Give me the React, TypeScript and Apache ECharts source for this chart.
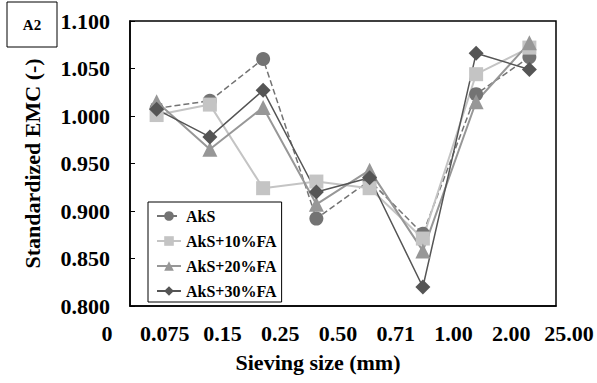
import React, { useEffect, useRef } from "react";
import * as echarts from "echarts";

const categories = ["0-0.075", "0.075-0.15", "0.15-0.25", "0.25-0.50", "0.50-0.71", "0.71-1.00", "1.00-2.00", "2.00-25.00"];
const tickLabels = ["0", "0.075", "0.15", "0.25", "0.50", "0.71", "1.00", "2.00", "25.00"];
const aks = [1.008, 1.016, 1.060, 0.892, 0.932, 0.876, 1.023, 1.062];
const aks10 = [1.001, 1.012, 0.924, 0.931, 0.924, 0.871, 1.044, 1.072];
const aks20 = [1.015, 0.965, 1.009, 0.907, 0.943, 0.858, 1.015, 1.077];
const aks30 = [1.007, 0.978, 1.027, 0.920, 0.935, 0.820, 1.066, 1.049];

const FONT = "'Liberation Serif', 'Times New Roman', serif";

export default function App() {
  const ref = useRef<HTMLDivElement>(null);
  useEffect(() => {
    if (!ref.current) return;
    const chart = echarts.init(ref.current, null, { renderer: "svg" });
    const mk = (name: string, data: number[], color: string, symbol: string, size: number, width: number, type: string) => ({
      name,
      type: "line",
      data,
      symbol,
      symbolSize: size,
      xAxisIndex: 0,
      yAxisIndex: 0,
      itemStyle: { color },
      lineStyle: { color, width, type },
    });
    chart.setOption({
      animation: false,
      backgroundColor: "#fff",
      textStyle: { fontFamily: FONT },
      grid: [
        { left: 130, right: 41, top: 21, bottom: 77, show: true, borderColor: "#000", borderWidth: 1.5, backgroundColor: "transparent" },
        { left: 107, right: 28, top: 21, bottom: 77, show: false },
      ],
      xAxis: [
        {
          type: "category",
          gridIndex: 0,
          data: categories,
          boundaryGap: true,
          axisLine: { lineStyle: { color: "#000", width: 1.5 } },
          axisTick: { inside: true, length: 5, lineStyle: { color: "#000" } },
          axisLabel: { show: false },
        },
        {
          type: "category",
          gridIndex: 1,
          data: tickLabels,
          boundaryGap: false,
          axisLine: { show: false },
          axisTick: { show: false },
          axisLabel: { show: true, interval: 0, margin: 16, color: "#000", fontSize: 22, fontWeight: "bold", fontFamily: FONT },
          name: "Sieving size (mm)",
          nameLocation: "middle",
          nameGap: 45,
          nameTextStyle: { color: "#000", fontSize: 22, fontWeight: "bold", fontFamily: FONT, padding: [0, 40, 0, 0] },
        },
      ],
      yAxis: [
        {
          type: "value",
          gridIndex: 0,
          min: 0.8,
          max: 1.1,
          interval: 0.05,
          axisLine: { show: true, lineStyle: { color: "#000", width: 1.5 } },
          axisTick: { show: true, inside: true, length: 5, lineStyle: { color: "#000" } },
          splitLine: { show: false },
          axisLabel: { margin: 20, color: "#000", fontSize: 22, fontWeight: "bold", fontFamily: FONT, formatter: (v: number) => v.toFixed(3) },
          name: "Standardized EMC (-)",
          nameLocation: "middle",
          nameGap: 87,
          nameTextStyle: { color: "#000", fontSize: 22, fontWeight: "bold", fontFamily: FONT },
        },
        { type: "value", gridIndex: 1, show: false },
      ],
      legend: {
        orient: "vertical",
        left: 148,
        top: 202,
        borderColor: "#000",
        borderWidth: 1,
        padding: [6, 5, 3, 8],
        itemGap: 9,
        itemWidth: 24,
        itemHeight: 12,
        textStyle: { color: "#000", fontSize: 16, fontWeight: "bold", fontFamily: FONT, lineHeight: 16 },
        data: ["AkS", "AkS+10%FA", "AkS+20%FA", "AkS+30%FA"],
      },
      graphic: [
        { type: "rect", shape: { x: 7, y: 2, width: 50, height: 45 }, style: { fill: "#fff", stroke: "#000", lineWidth: 1 } },
        { type: "text", x: 32, y: 25, style: { text: "A2", fill: "#000", font: `bold 15px ${FONT}`, textAlign: "center", textVerticalAlign: "middle" } },
      ],
      series: [
        mk("AkS", aks, "#737373", "circle", 14, 1.5, "dashed"),
        mk("AkS+10%FA", aks10, "#c4c4c4", "rect", 14, 2, "solid"),
        mk("AkS+20%FA", aks20, "#979797", "triangle", 15, 2, "solid"),
        mk("AkS+30%FA", aks30, "#555555", "diamond", 15, 1.5, "solid"),
      ],
    });
    return () => chart.dispose();
  }, []);
  return <div ref={ref} style={{ position: "absolute", left: 0, top: 0, width: 597, height: 383 }} />;
}
